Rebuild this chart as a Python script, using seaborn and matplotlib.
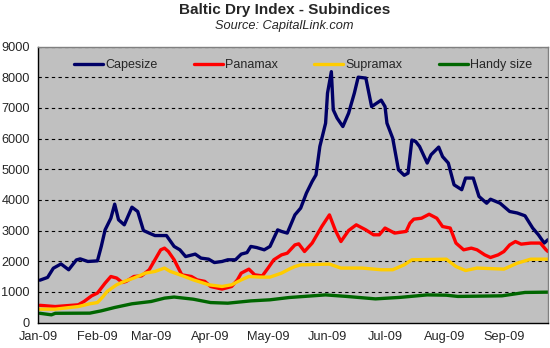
import matplotlib
matplotlib.use("Agg")
import matplotlib.pyplot as plt
import pandas as pd
import seaborn as sns

cape_dates = ["2009-01-02","2009-01-06","2009-01-09","2009-01-13","2009-01-17","2009-01-21","2009-01-23","2009-01-27",
              "2009-02-01","2009-02-03","2009-02-05","2009-02-08","2009-02-10","2009-02-12","2009-02-15","2009-02-19",
              "2009-02-22","2009-02-25","2009-02-28","2009-03-03","2009-03-09","2009-03-13","2009-03-16","2009-03-19",
              "2009-03-24","2009-03-27","2009-03-31","2009-04-03","2009-04-07","2009-04-10","2009-04-14","2009-04-17",
              "2009-04-20","2009-04-22","2009-04-25","2009-04-29","2009-05-02","2009-05-06","2009-05-08","2009-05-11",
              "2009-05-15","2009-05-18","2009-05-21","2009-05-24","2009-05-26","2009-05-28","2009-05-31","2009-06-01",
              "2009-06-03","2009-06-04","2009-06-06","2009-06-09","2009-06-12","2009-06-15","2009-06-17","2009-06-21",
              "2009-06-24","2009-06-29","2009-07-01","2009-07-02","2009-07-05","2009-07-08","2009-07-11","2009-07-13",
              "2009-07-15","2009-07-17","2009-07-19","2009-07-23","2009-07-25","2009-07-29","2009-07-31","2009-08-03",
              "2009-08-06","2009-08-10","2009-08-12","2009-08-16","2009-08-19","2009-08-23","2009-08-25","2009-08-30",
              "2009-09-04","2009-09-08","2009-09-12","2009-09-16","2009-09-19","2009-09-22","2009-09-24"]
cape_vals = [1380,1470,1770,1910,1720,2040,2075,1990,
             2010,2480,3020,3400,3860,3350,3185,3760,
             3620,3000,2915,2835,2835,2480,2370,2150,
             2230,2100,2065,1955,1990,2045,2045,2230,
             2280,2480,2445,2370,2480,3020,2970,2915,
             3510,3730,4220,4600,4815,5740,6500,7480,
             8180,6935,6665,6390,6825,7480,8000,7970,
             7040,7250,7040,6500,6010,4980,4800,4870,
             5950,5900,5740,5200,5470,5720,5410,5200,
             4490,4330,4710,4710,4110,3890,4020,3890,
             3620,3570,3480,3080,2860,2590,2700]

pana_dates = ["2009-01-02","2009-01-10","2009-01-22","2009-01-25","2009-01-29","2009-02-01","2009-02-05","2009-02-08",
              "2009-02-11","2009-02-14","2009-02-16","2009-02-20","2009-02-24","2009-02-28","2009-03-03","2009-03-06",
              "2009-03-08","2009-03-10","2009-03-13","2009-03-17","2009-03-22","2009-03-25","2009-03-29","2009-04-01",
              "2009-04-07","2009-04-12","2009-04-15","2009-04-17","2009-04-21","2009-04-24","2009-04-28","2009-05-01",
              "2009-05-04","2009-05-08","2009-05-11","2009-05-15","2009-05-17","2009-05-20","2009-05-24","2009-05-29",
              "2009-06-02","2009-06-05","2009-06-08","2009-06-12","2009-06-16","2009-06-21","2009-06-25","2009-06-28",
              "2009-07-01","2009-07-06","2009-07-12","2009-07-14","2009-07-16","2009-07-20","2009-07-24","2009-07-28",
              "2009-07-31","2009-08-04","2009-08-07","2009-08-11","2009-08-15","2009-08-18","2009-08-22","2009-08-25",
              "2009-08-29","2009-09-01","2009-09-04","2009-09-07","2009-09-10","2009-09-15","2009-09-20","2009-09-23",
              "2009-09-24"]
pana_vals = [560,520,577,685,870,960,1285,1500,
             1450,1305,1340,1500,1520,1720,2045,2370,
             2425,2315,2045,1555,1500,1390,1340,1175,
             1090,1175,1390,1610,1740,1555,1520,1775,
             2045,2205,2260,2530,2565,2315,2590,3130,
             3510,3020,2640,3000,3185,3020,2860,2860,
             3080,2915,2970,3240,3370,3400,3530,3400,
             3130,3080,2590,2370,2425,2370,2205,2120,
             2205,2315,2530,2640,2555,2590,2590,2370,
             2315]

supra_dates = ["2009-01-02","2009-01-10","2009-01-22","2009-01-28","2009-02-01","2009-02-04","2009-02-06","2009-02-11",
               "2009-02-15","2009-02-20","2009-02-26","2009-03-03","2009-03-08","2009-03-11","2009-03-16","2009-03-23",
               "2009-03-31","2009-04-07","2009-04-12","2009-04-17","2009-04-21","2009-04-27","2009-05-02","2009-05-08",
               "2009-05-12","2009-05-15","2009-05-18","2009-06-02","2009-06-08","2009-06-19","2009-06-29","2009-07-05",
               "2009-07-11","2009-07-15","2009-08-02","2009-08-07","2009-08-12","2009-08-18","2009-09-01","2009-09-08",
               "2009-09-15","2009-09-24"]
supra_vals = [435,435,520,610,650,850,1010,1230,
              1340,1450,1610,1665,1775,1665,1555,1390,
              1230,1175,1230,1390,1500,1480,1480,1610,
              1740,1825,1880,1905,1775,1775,1720,1720,
              1880,2045,2065,1825,1695,1775,1740,1935,
              2065,2065]

handy_dates = ["2009-01-02","2009-01-08","2009-01-10","2009-01-28","2009-02-03","2009-02-10","2009-02-19","2009-03-01",
               "2009-03-08","2009-03-13","2009-03-23","2009-04-01","2009-04-10","2009-04-22","2009-05-02","2009-05-12",
               "2009-05-31","2009-06-11","2009-06-26","2009-07-09","2009-07-23","2009-08-02","2009-08-08","2009-08-31",
               "2009-09-12","2009-09-24"]
handy_vals = [300,250,300,305,380,490,610,685,
              795,830,760,650,630,705,740,815,
              900,850,770,820,900,890,850,870,
              980,990]

series_names = ["Capesize", "Panamax", "Supramax", "Handy size"]
colors = ["#000066", "#FF0000", "#FFCC00", "#006600"]
month_ticks = ["2009-01-01","2009-02-01","2009-03-01","2009-04-01","2009-05-01",
               "2009-06-01","2009-07-01","2009-08-01","2009-09-01"]
month_labels = ["Jan-09","Feb-09","Mar-09","Apr-09","May-09","Jun-09","Jul-09","Aug-09","Sep-09"]
y_ticks = [0,1000,2000,3000,4000,5000,6000,7000,8000,9000]

frames = []
for name, d, v in zip(series_names,
                      [cape_dates, pana_dates, supra_dates, handy_dates],
                      [cape_vals, pana_vals, supra_vals, handy_vals]):
    frames.append(pd.DataFrame({"date": pd.to_datetime(d), "value": v, "series": name}))
df = pd.concat(frames, ignore_index=True)

sns.set_style("white")
plt.rcParams["font.family"] = ["Liberation Sans", "DejaVu Sans"]

fig = plt.figure(figsize=(5.5, 3.48), dpi=100)
ax = fig.add_axes([38/550, 1 - 322.5/348, 510/550, 276/348])
ax.set_facecolor("#C0C0C0")

sns.lineplot(data=df, x="date", y="value", hue="series", hue_order=series_names,
             palette=colors, linewidth=2.4, ax=ax, sort=True, estimator=None)

ax.set_xlim(pd.Timestamp("2009-01-01"), pd.Timestamp("2009-09-24"))
ax.set_ylim(0, 9000)
ax.set_yticks(y_ticks)
ax.set_yticklabels([str(t) for t in y_ticks], fontsize=9.2)
ax.set_xticks(pd.to_datetime(month_ticks))
ax.set_xticklabels(month_labels, fontsize=9.2)
ax.set_xlabel("")
ax.set_ylabel("")
for t in y_ticks[1:]:
    ax.axhline(t, color="black", linestyle=(0, (3, 3)), linewidth=0.8, zorder=0.5)
ax.tick_params(axis="both", direction="out", length=4, width=0.8, color="black", pad=2)
for s in ["left", "bottom"]:
    ax.spines[s].set_color("black")
    ax.spines[s].set_linewidth(1.0)
for s in ["top", "right"]:
    ax.spines[s].set_color("#808080")
    ax.spines[s].set_linewidth(1.0)

leg = ax.legend(loc="upper center", bbox_to_anchor=(0.52, 0.995), ncol=4, frameon=False,
                fontsize=9, handlelength=2.3, columnspacing=2.9, handletextpad=0.2)
for line in leg.get_lines():
    line.set_linewidth(2.4)

fig.text(0.517, 0.972, "Baltic Dry Index - Subindices", ha="center", va="center",
         fontsize=11, fontweight="bold")
fig.text(0.517, 0.924, "Source: CapitalLink.com", ha="center", va="center",
         fontsize=9.2, style="italic")

fig.savefig("out.png", dpi=100, facecolor="white")
